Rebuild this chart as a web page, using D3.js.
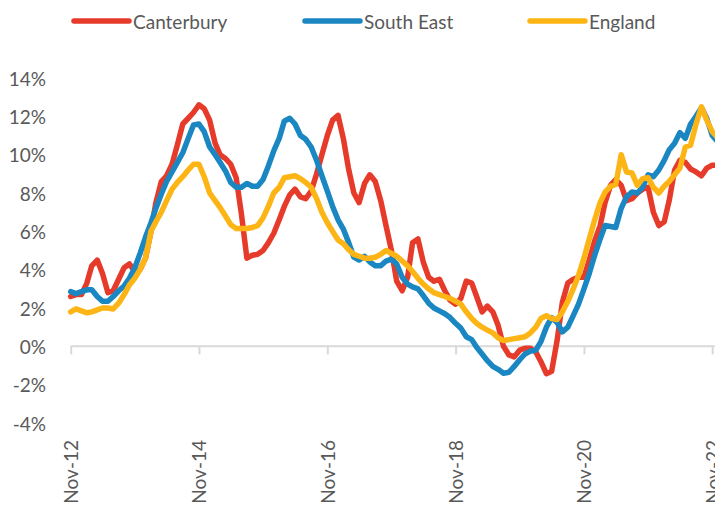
<!DOCTYPE html>
<html>
<head>
<meta charset="utf-8">
<script src="https://cdn.jsdelivr.net/npm/d3@7/dist/d3.min.js"></script>
<style>
  html, body { margin: 0; padding: 0; background: #fff; }
  svg { display: block; }
  text { font-family: Lato, "Open Sans", sans-serif; fill: #595959; }
</style>
</head>
<body>
<svg id="chart" width="715" height="511"></svg>
<script>
// ---- Data (monthly, starting Nov-2012) ----
const seriesNames = ["Canterbury", "South East", "England"];
const seriesColors = ["#E63B2A", "#1B87C2", "#FDB515"];
const startYear = 2012, startMonth = 10; // Nov 2012 (0-based month)

const canterbury = [2.6, 2.7, 2.7, 3.3, 4.2, 4.5, 3.8, 2.8, 2.9, 3.5, 4.1, 4.3,
  3.9, 4.0, 4.6, 6.0, 7.5, 8.6, 8.9, 9.5, 10.5, 11.6, 11.9, 12.2,
  12.6, 12.4, 11.8, 10.6, 10.0, 9.8, 9.5, 8.8, 6.9, 4.6, 4.75, 4.8,
  5.0, 5.4, 5.9, 6.6, 7.3, 7.9, 8.2, 7.8, 7.7, 8.1, 9.0, 10.0,
  11.0, 11.8, 12.05, 10.8, 9.3, 8.0, 7.5, 8.5, 8.95, 8.6, 7.6, 6.3,
  5.0, 3.4, 2.9, 3.6, 5.4, 5.6, 4.4, 3.6, 3.4, 3.5, 2.9, 2.4,
  2.2, 2.5, 3.4, 3.3, 2.6, 1.8, 2.1, 1.8, 1.1, 0.0, -0.45, -0.55,
  -0.2, -0.1, -0.1, -0.3, -0.8, -1.43, -1.3, 0.3, 2.3, 3.3, 3.5, 3.6,
  3.6, 4.5, 5.5, 6.3, 7.5, 8.4, 8.7, 8.4, 7.6, 7.7, 8.0, 8.2,
  8.3, 7.0, 6.3, 6.5, 7.6, 9.2, 9.7, 9.6, 9.25, 9.1, 8.9, 9.3,
  9.45, 9.45];

const southEast = [2.85, 2.75, 2.85, 2.95, 2.95, 2.6, 2.35, 2.35, 2.6, 2.9, 3.15, 3.55,
  4.1, 4.85, 5.7, 6.45, 7.2, 7.95, 8.6, 9.1, 9.6, 10.1, 10.85, 11.55,
  11.6, 11.2, 10.4, 10.0, 9.6, 9.15, 8.55, 8.3, 8.3, 8.5, 8.35, 8.35,
  8.7, 9.4, 10.2, 10.85, 11.75, 11.9, 11.6, 11.0, 10.8, 10.4, 9.7, 8.9,
  8.1, 7.3, 6.6, 6.1, 5.45, 4.65, 4.5, 4.7, 4.4, 4.2, 4.2, 4.45,
  4.55, 4.3, 3.6, 3.25, 3.1, 3.0, 2.65, 2.25, 2.0, 1.85, 1.7, 1.5,
  1.2, 0.95, 0.5, 0.35, -0.05, -0.4, -0.75, -1.05, -1.2, -1.4, -1.35, -1.05,
  -0.7, -0.4, -0.25, -0.2, 0.25, 1.0, 1.5, 1.25, 0.75, 1.0, 1.6, 2.2,
  3.0, 3.8, 4.75, 5.6, 6.3, 6.25, 6.2, 7.2, 7.8, 8.05, 8.0, 8.3,
  8.95, 8.85, 9.2, 9.7, 10.25, 10.6, 11.15, 10.85, 11.6, 12.0, 12.45, 11.9,
  11.0, 10.7];

const england = [1.8, 1.95, 1.85, 1.75, 1.8, 1.9, 2.0, 2.0, 1.95, 2.25, 2.7, 3.2,
  3.55, 4.0, 4.6, 6.0, 6.5, 7.0, 7.6, 8.2, 8.55, 8.85, 9.2, 9.5,
  9.5, 8.85, 8.0, 7.6, 7.25, 6.8, 6.35, 6.15, 6.15, 6.15, 6.2, 6.3,
  6.7, 7.3, 8.0, 8.3, 8.8, 8.85, 8.9, 8.75, 8.55, 8.3, 7.7, 7.0,
  6.45, 6.0, 5.55, 5.35, 5.05, 4.8, 4.7, 4.6, 4.6, 4.65, 4.8, 5.0,
  4.85, 4.7, 4.45, 4.2, 3.9, 3.55, 3.25, 3.0, 2.8, 2.7, 2.6, 2.5,
  2.35, 2.2, 1.8, 1.45, 1.2, 1.0, 0.85, 0.7, 0.45, 0.3, 0.35, 0.4,
  0.45, 0.5, 0.7, 1.0, 1.45, 1.6, 1.45, 1.4, 1.8, 2.35, 3.0, 3.7,
  4.6, 5.6, 6.6, 7.5, 8.05, 8.35, 8.45, 10.0, 9.1, 9.05, 8.4, 8.75,
  8.8, 8.3, 8.0, 8.35, 8.6, 8.95, 9.3, 10.4, 10.5, 11.6, 12.5, 11.8,
  11.2, 10.9];

const yTicks = [-4, -2, 0, 2, 4, 6, 8, 10, 12, 14];
const xTickLabels = ["Nov-12", "Nov-14", "Nov-16", "Nov-18", "Nov-20", "Nov-22"];
const xTickMonths = [0, 24, 48, 72, 96, 120];

// ---- Drawing ----
const svg = d3.select("#chart");
const dateOf = i => new Date(startYear, startMonth + i, 1);

const x = d3.scaleTime()
  .domain([dateOf(0), dateOf(120)])
  .range([70.7, 712.2]);
const y = d3.scaleLinear()
  .domain([-4, 14])
  .range([423, 78]);

// y labels
svg.append("g").selectAll("text")
  .data(yTicks)
  .join("text")
  .attr("x", 46)
  .attr("y", d => y(d))
  .attr("text-anchor", "end")
  .attr("dominant-baseline", "central")
  .style("font-size", "19px")
  .text(d => d + "%");

// x axis at zero with tick marks
const xAxis = d3.axisBottom(x)
  .tickValues(xTickMonths.map(dateOf))
  .tickSize(8)
  .tickFormat("");
const gx = svg.append("g")
  .attr("transform", `translate(0,${y(0)})`)
  .call(xAxis);
gx.select(".domain").remove();
gx.selectAll(".tick line").attr("stroke", "#d9d9d9").attr("stroke-width", 2);
gx.append("line")
  .attr("x1", x(dateOf(0))).attr("x2", 760)
  .attr("y1", 0).attr("y2", 0)
  .attr("stroke", "#d9d9d9").attr("stroke-width", 2);

// x labels (low position, rotated)
svg.append("g").selectAll("text")
  .data(xTickLabels)
  .join("text")
  .attr("transform", (d, i) => `translate(${x(dateOf(xTickMonths[i]))},440) rotate(-90)`)
  .attr("text-anchor", "end")
  .attr("dominant-baseline", "central")
  .style("font-size", "19px")
  .text(d => d);

// lines
const allSeries = [canterbury, southEast, england];
const line = d3.line()
  .x((d, i) => x(dateOf(i)))
  .y(d => y(d));
svg.append("g").selectAll("path")
  .data(allSeries)
  .join("path")
  .attr("d", d => line(d))
  .attr("fill", "none")
  .attr("stroke", (d, i) => seriesColors[i])
  .attr("stroke-width", 5.5)
  .attr("stroke-linejoin", "round")
  .attr("stroke-linecap", "round");

// legend
const legendX = [74, 305, 530];
const lg = svg.append("g").selectAll("g")
  .data(seriesNames)
  .join("g")
  .attr("transform", (d, i) => `translate(${legendX[i]},21)`);
lg.append("line")
  .attr("x1", 0).attr("x2", 55).attr("y1", 0).attr("y2", 0)
  .attr("stroke", (d, i) => seriesColors[i])
  .attr("stroke-width", 5.5)
  .attr("stroke-linecap", "round");
lg.append("text")
  .attr("x", 59)
  .attr("y", 0)
  .attr("dominant-baseline", "central")
  .style("font-size", "19px")
  .text(d => d);
</script>
</body>
</html>
